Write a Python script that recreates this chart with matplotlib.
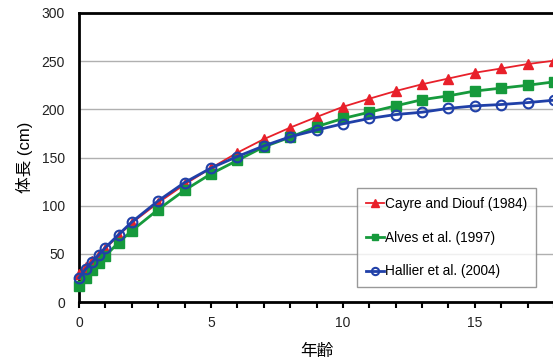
import matplotlib
matplotlib.use("Agg")
import matplotlib.pyplot as plt

ages = [0, 0.25, 0.5, 0.75, 1, 1.5, 2, 3, 4, 5, 6, 7, 8, 9, 10, 11, 12, 13, 14, 15, 16, 17, 18]
cayre = [29, 36, 42.5, 48.5, 55.5, 69, 82, 103, 122, 139, 155, 169, 181, 192, 202.6, 211, 219, 226, 232, 238, 242.4, 247, 250.5]
alves = [17, 25, 33, 41, 48, 61.7, 74, 96, 116, 133, 147, 161, 171, 182, 190.5, 197, 203.6, 210, 214, 219, 222, 225, 228.5]
hallier = [25, 34, 41.5, 49, 56.5, 70, 83, 105, 124, 139, 151, 162, 171.5, 178.5, 185, 190.5, 194.6, 197, 201, 203.6, 205, 207, 209.5]

labels = ["Cayre and Diouf (1984)", "Alves et al. (1997)", "Hallier et al. (2004)"]
xlabel = "年齢"
ylabel = "体長 (cm)"
xticks = [0, 5, 10, 15]
yticks = [0, 50, 100, 150, 200, 250, 300]

plt.rcParams['font.family'] = ['Liberation Sans', 'Noto Sans CJK JP', 'DejaVu Sans']

W, H = 553, 360
fig = plt.figure(figsize=(W / 100, H / 100), dpi=100)
ax = fig.add_axes([79 / W, (H - 302) / H, 475 / W, 289 / H])

red = "#E8202A"
green = "#169A3C"
blue = "#2040A8"

ax.plot(ages, cayre, color=red, lw=1.3, marker="^", ms=7, mfc=red, mec=red, label=labels[0], clip_on=False, zorder=3)
ax.plot(ages, alves, color=green, lw=2.0, marker="s", ms=6.5, mfc=green, mec=green, label=labels[1], clip_on=False, zorder=3)
ax.plot(ages, hallier, color=blue, lw=2.0, marker="o", ms=7, mfc="none", mec=blue, mew=1.5, label=labels[2], clip_on=False, zorder=4)

ax.set_xlim(0, 18)
ax.set_ylim(0, 300)
ax.set_xticks(range(0, 19))
ax.set_xticklabels([str(v) if v in xticks else "" for v in range(0, 19)])
ax.set_yticks(yticks)
ax.tick_params(axis="x", direction="out", length=4, width=1.5, labelsize=10, pad=6, colors="black")
ax.tick_params(axis="y", length=0, labelsize=10, pad=10)
for t in ax.get_xticklabels() + ax.get_yticklabels():
    t.set_color("#222222")

ax.grid(axis="y", color="#b0b0b0", lw=1)
ax.set_axisbelow(True)
for s in ["left", "bottom", "top"]:
    ax.spines[s].set_linewidth(2)
    ax.spines[s].set_color("black")
ax.spines["right"].set_visible(False)

ax.set_xlabel(xlabel, fontsize=12, labelpad=10)
ax.set_ylabel(ylabel, fontsize=12, labelpad=6)

leg = ax.legend(loc="upper left", bbox_to_anchor=((357 - 79) / 475, (302 - 188) / 289),
                borderaxespad=0,
                frameon=True, fancybox=False, edgecolor="#808080", fontsize=9.8,
                handlelength=1.3, handletextpad=0.1, labelspacing=1.45, borderpad=0.65,
                markerscale=0.75)
leg.get_frame().set_linewidth(1)

fig.savefig("out.png", dpi=100)
